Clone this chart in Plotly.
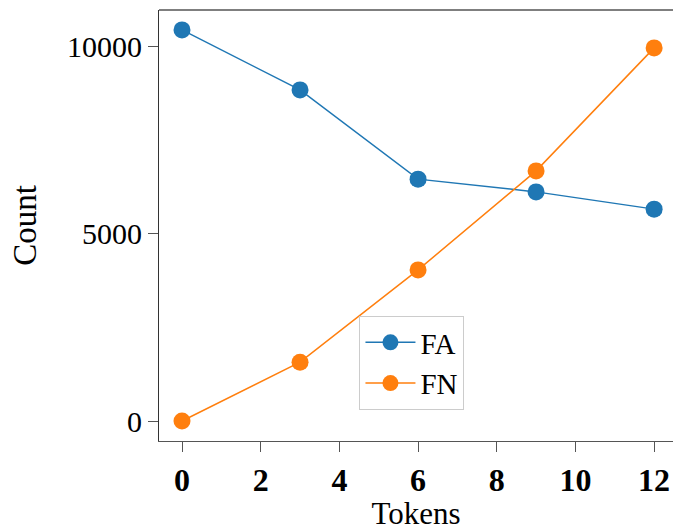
import plotly.graph_objects as go

tokens = [0, 3, 6, 9, 12]
fa_counts = [10430, 8830, 6450, 6110, 5650]
fn_counts = [0, 1570, 4030, 6670, 9950]
x_ticks = [0, 2, 4, 6, 8, 10, 12]
y_ticks = [0, 5000, 10000]

blue = "#1f77b4"
orange = "#ff7f0e"
font_family = "Liberation Serif, DejaVu Serif, serif"

fig = go.Figure()
fig.add_trace(go.Scatter(x=tokens, y=fa_counts, mode="lines+markers", name="FA",
                         line=dict(color=blue, width=1.5),
                         marker=dict(color=blue, size=17)))
fig.add_trace(go.Scatter(x=tokens, y=fn_counts, mode="lines+markers", name="FN",
                         line=dict(color=orange, width=1.5),
                         marker=dict(color=orange, size=17)))

fig.update_layout(
    width=673, height=531,
    margin=dict(l=159, r=0, t=10, b=90),
    plot_bgcolor="white", paper_bgcolor="white",
    font=dict(family=font_family, size=29, color="black"),
    showlegend=True,
    legend=dict(x=0.39, y=0.29, xanchor="left", yanchor="top",
                bgcolor="rgba(255,255,255,0.8)", bordercolor="#cccccc", borderwidth=1,
                font=dict(size=29, family=font_family), itemwidth=50,
                tracegroupgap=0),
)
fig.update_xaxes(
    range=[-0.585, 12.48], tickvals=x_ticks,
    ticktext=[f"<b>{v}</b>" for v in x_ticks],
    showgrid=False, zeroline=False, automargin=False,
    showline=True, linecolor="#555555", linewidth=1.2,
    ticks="outside", ticklen=10, tickwidth=1.2, tickcolor="#555555",
    title=dict(text="Tokens", standoff=14, font=dict(size=31)),
    tickfont=dict(size=32),
)
fig.update_yaxes(
    range=[-533, 10960], tickvals=y_ticks, ticktext=[str(v) for v in y_ticks],
    showgrid=False, zeroline=False, automargin=False,
    showline=True, linecolor="#333333", linewidth=1.2,
    ticks="outside", ticklen=10, tickwidth=1.2, tickcolor="#555555",
    title=dict(text="Count", standoff=20, font=dict(size=33)),
    tickfont=dict(size=30),
)
fig.add_shape(type="line", xref="paper", yref="paper", x0=0, x1=1, y0=1, y1=1,
              line=dict(color="black", width=1.2))
fig.write_html("out.html", config={"displayModeBar": False},
               post_script="document.body.style.margin='0';")
